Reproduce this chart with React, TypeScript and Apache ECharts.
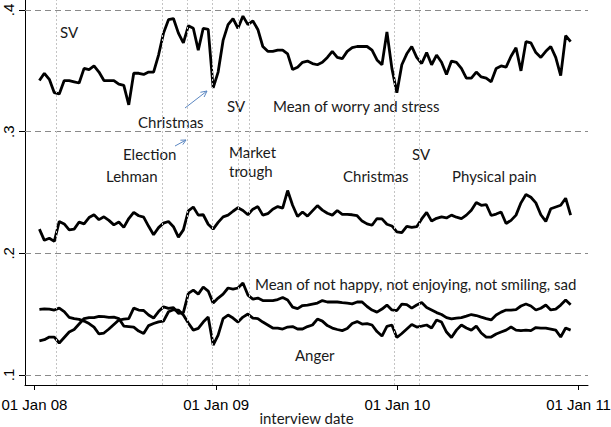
import React, { useEffect, useRef } from 'react';
import * as echarts from 'echarts';

const DAY = 86400000;
// interview-date sampling: every 10 days starting 11 Jan 2008
const sampleStart = Date.UTC(2008, 0, 11);
const sampleStepDays = 10;

const worryStress = [
  0.342, 0.348, 0.343, 0.332, 0.331, 0.342, 0.342, 0.341, 0.340, 0.352,
  0.351, 0.354, 0.349, 0.342, 0.342, 0.342, 0.339, 0.338, 0.322, 0.348,
  0.348, 0.347, 0.349, 0.349, 0.363, 0.381, 0.392, 0.393, 0.381, 0.373,
  0.387, 0.385, 0.367, 0.385, 0.384, 0.336, 0.349, 0.375, 0.388, 0.393,
  0.385, 0.395, 0.388, 0.391, 0.384, 0.370, 0.366, 0.366, 0.367, 0.367,
  0.364, 0.351, 0.353, 0.357, 0.358, 0.356, 0.355, 0.357, 0.361, 0.366,
  0.361, 0.360, 0.366, 0.369, 0.370, 0.370, 0.370, 0.367, 0.359, 0.355,
  0.382, 0.352, 0.332, 0.355, 0.364, 0.370, 0.361, 0.356, 0.365, 0.355,
  0.363, 0.357, 0.347, 0.358, 0.357, 0.352, 0.344, 0.344, 0.349, 0.345,
  0.344, 0.341, 0.352, 0.354, 0.353, 0.362, 0.369, 0.350, 0.374, 0.373,
  0.365, 0.361, 0.366, 0.370, 0.361, 0.346, 0.379, 0.374,
];

const physicalPain = [
  0.2199, 0.2107, 0.2124, 0.2098, 0.2262, 0.2242, 0.2193, 0.2199, 0.2257, 0.2242,
  0.2294, 0.2317, 0.2277, 0.2300, 0.2271, 0.2234, 0.2257, 0.2213, 0.2286, 0.2337,
  0.2309, 0.2297, 0.2222, 0.2153, 0.2211, 0.2248, 0.2262, 0.2219, 0.2133, 0.2193,
  0.2349, 0.2381, 0.2314, 0.2317, 0.2239, 0.2199, 0.2254, 0.2300, 0.2314, 0.2346,
  0.2375, 0.2352, 0.2317, 0.2363, 0.2384, 0.2314, 0.2326, 0.2363, 0.2384, 0.2372,
  0.2516, 0.2395, 0.2303, 0.2340, 0.2306, 0.2349, 0.2392, 0.2355, 0.2329, 0.2314,
  0.2352, 0.2320, 0.2320, 0.2317, 0.2309, 0.2265, 0.2242, 0.2231, 0.2286, 0.2283,
  0.2239, 0.2225, 0.2176, 0.2170, 0.2222, 0.2213, 0.2219, 0.2283, 0.2337, 0.2265,
  0.2288, 0.2300, 0.2291, 0.2314, 0.2297, 0.2286, 0.2314, 0.2355, 0.2418, 0.2395,
  0.2401, 0.2311, 0.2323, 0.2340, 0.2245, 0.2271, 0.2314, 0.2415, 0.2484, 0.2461,
  0.2415, 0.2317, 0.2262, 0.2366, 0.2381, 0.2395, 0.2453, 0.2314,
];

const notHappy = [
  0.1540, 0.1544, 0.1542, 0.1534, 0.1550, 0.1521, 0.1474, 0.1463, 0.1457, 0.1443,
  0.1423, 0.1394, 0.1337, 0.1345, 0.1378, 0.1415, 0.1452, 0.1460, 0.1464, 0.1550,
  0.1534, 0.1530, 0.1493, 0.1468, 0.1521, 0.1560, 0.1548, 0.1554, 0.1507, 0.1513,
  0.1671, 0.1698, 0.1665, 0.1723, 0.1690, 0.1591, 0.1632, 0.1665, 0.1715, 0.1706,
  0.1715, 0.1756, 0.1657, 0.1624, 0.1632, 0.1612, 0.1612, 0.1612, 0.1620, 0.1637,
  0.1616, 0.1558, 0.1546, 0.1571, 0.1575, 0.1583, 0.1591, 0.1612, 0.1600, 0.1600,
  0.1600, 0.1595, 0.1591, 0.1585, 0.1600, 0.1600, 0.1563, 0.1534, 0.1517, 0.1542,
  0.1575, 0.1535, 0.1530, 0.1583, 0.1579, 0.1550, 0.1575, 0.1595, 0.1554, 0.1534,
  0.1513, 0.1497, 0.1472, 0.1461, 0.1468, 0.1472, 0.1484, 0.1497, 0.1489, 0.1476,
  0.1464, 0.1453, 0.1493, 0.1517, 0.1534, 0.1534, 0.1538, 0.1567, 0.1583, 0.1567,
  0.1534, 0.1549, 0.1575, 0.1535, 0.1542, 0.1575, 0.1616, 0.1577,
];

const anger = [
  0.1281, 0.1290, 0.1312, 0.1312, 0.1263, 0.1308, 0.1353, 0.1374, 0.1419, 0.1464,
  0.1472, 0.1472, 0.1482, 0.1480, 0.1474, 0.1476, 0.1464, 0.1402, 0.1398, 0.1394,
  0.1361, 0.1341, 0.1406, 0.1423, 0.1437, 0.1443, 0.1520, 0.1536, 0.1534, 0.1493,
  0.1427, 0.1369, 0.1383, 0.1435, 0.1476, 0.1246, 0.1328, 0.1464, 0.1493, 0.1468,
  0.1435, 0.1476, 0.1501, 0.1468, 0.1464, 0.1435, 0.1411, 0.1386, 0.1386, 0.1378,
  0.1394, 0.1398, 0.1378, 0.1378, 0.1398, 0.1411, 0.1460, 0.1443, 0.1406, 0.1386,
  0.1374, 0.1365, 0.1382, 0.1423, 0.1439, 0.1419, 0.1423, 0.1411, 0.1357, 0.1320,
  0.1400, 0.1411, 0.1308, 0.1341, 0.1378, 0.1415, 0.1394, 0.1402, 0.1411, 0.1386,
  0.1452, 0.1435, 0.1353, 0.1308, 0.1369, 0.1411, 0.1386, 0.1369, 0.1402, 0.1345,
  0.1312, 0.1312, 0.1337, 0.1353, 0.1369, 0.1394, 0.1369, 0.1365, 0.1369, 0.1365,
  0.1390, 0.1386, 0.1386, 0.1378, 0.1369, 0.1312, 0.1386, 0.1369,
];

const yTicks = [0.1, 0.2, 0.3, 0.4];
const xTickDates = ['2008-01-01', '2009-01-01', '2010-01-01', '2011-01-01'];
// events: St Valentine's (SV), Lehman, Election, Christmas, SV, Market trough, Christmas, SV
const eventDates = [
  '2008-02-14', '2008-09-15', '2008-11-04', '2008-12-25',
  '2009-02-14', '2009-03-09', '2009-12-25', '2010-02-14',
];
const xMin = '2007-12-13';
const xMax = '2011-01-20';
const MONTHS = ['Jan', 'Feb', 'Mar', 'Apr', 'May', 'Jun', 'Jul', 'Aug', 'Sep', 'Oct', 'Nov', 'Dec'];

const toTs = (s: string) => {
  const [y, m, d] = s.split('-').map(Number);
  return Date.UTC(y, m - 1, d);
};

const seriesData = (vals: number[]) =>
  vals.map((v, i) => [sampleStart + i * sampleStepDays * DAY, v]);

const ANNOT_FONT = 'Lato';
const TEXT_COLOR = '#1a1a1a';
const ARROW_COLOR = '#5b87c2';

export default function App() {
  const ref = useRef<HTMLDivElement>(null);
  useEffect(() => {
    if (!ref.current) return;
    const chart = echarts.init(ref.current, undefined, { renderer: 'svg' });
    const txt = (text: string, x: number, y: number) => ({
      type: 'text',
      x,
      y,
      silent: true,
      style: {
        text,
        fill: TEXT_COLOR,
        fontFamily: ANNOT_FONT,
        fontSize: 15,
        align: 'left',
        verticalAlign: 'middle',
      },
    });
    const lineStyle = { color: '#000', width: 2.8 };
    const xTickValues = xTickDates.map(toTs);
    const option: any = {
      animation: false,
      grid: { left: 25, right: 23, top: 0, bottom: 42, containLabel: false, outerBoundsMode: 'none' },
      xAxis: {
        type: 'value',
        min: toTs(xMin),
        max: toTs(xMax),
        axisLine: { show: true, onZero: false, lineStyle: { color: '#000', width: 1 } },
        axisTick: {
          show: true,
          length: 5,
          customValues: xTickValues,
          lineStyle: { color: '#000', width: 1 },
        },
        axisLabel: {
          customValues: xTickValues,
          fontFamily: 'Liberation Sans',
          fontSize: 15,
          color: '#000',
          margin: 12,
          formatter: (v: number) => {
            const d = new Date(v);
            const dd = String(d.getUTCDate()).padStart(2, '0');
            const yy = String(d.getUTCFullYear() % 100).padStart(2, '0');
            return `${dd} ${MONTHS[d.getUTCMonth()]} ${yy}`;
          },
        },
        splitLine: { show: false },
        name: 'interview date',
        nameLocation: 'middle',
        nameGap: 25,
        nameMoveOverlap: false,
        nameTextStyle: { fontFamily: ANNOT_FONT, fontSize: 15, color: TEXT_COLOR },
      },
      yAxis: {
        type: 'value',
        min: 0.09178,
        max: 0.40822,
        axisLine: { show: true, onZero: false, lineStyle: { color: '#000', width: 1 } },
        axisTick: { show: true, length: 6, customValues: yTicks, lineStyle: { color: '#000' } },
        axisLabel: {
          customValues: yTicks,
          rotate: 90,
          margin: 9,
          fontFamily: 'Liberation Sans',
          fontSize: 15,
          color: '#000',
          formatter: (v: number) => '.' + Math.round(v * 10),
        },
        splitLine: { show: false },
      },
      series: [
        {
          type: 'line',
          data: [],
          z: 1,
          silent: true,
          markLine: {
            silent: true,
            symbol: ['none', 'none'],
            label: { show: false },
            animation: false,
            data: [
              ...yTicks.map((v) => ({
                yAxis: v,
                lineStyle: { type: [6, 4], color: '#8a8a8a', width: 1.2 },
              })),
              ...eventDates.map((d) => ({
                xAxis: toTs(d),
                lineStyle: { type: [2, 2], color: '#c4c4c4', width: 1 },
              })),
            ],
          },
        },
        { name: 'Mean of worry and stress', type: 'line', data: seriesData(worryStress), showSymbol: false, lineStyle, z: 3 },
        { name: 'Physical pain', type: 'line', data: seriesData(physicalPain), showSymbol: false, lineStyle, z: 3 },
        { name: 'Mean of not happy, not enjoying, not smiling, sad', type: 'line', data: seriesData(notHappy), showSymbol: false, lineStyle, z: 3 },
        { name: 'Anger', type: 'line', data: seriesData(anger), showSymbol: false, lineStyle, z: 3 },
      ],
      graphic: [
        txt('SV', 60, 32),
        txt('Christmas', 138, 122),
        txt('SV', 227, 106),
        txt('Mean of worry and stress', 273, 106),
        txt('Election', 123, 154),
        txt('Lehman', 106, 176),
        txt('Market', 229, 152),
        txt('trough', 229, 171),
        txt('Christmas', 343, 176),
        txt('SV', 412, 154),
        txt('Physical pain', 452, 176),
        txt('Mean of not happy, not enjoying, not smiling, sad', 255, 284),
        txt('Anger', 295, 355),
        { type: 'line', silent: true, shape: { x1: 185, y1: 108, x2: 207, y2: 91 }, style: { stroke: ARROW_COLOR, lineWidth: 1 } },
        { type: 'polyline', silent: true, shape: { points: [[204.1, 97.0], [207, 91], [200.4, 92.3]] }, style: { stroke: ARROW_COLOR, lineWidth: 1, fill: 'none' } },
        { type: 'line', silent: true, shape: { x1: 175, y1: 146, x2: 186, y2: 140 }, style: { stroke: ARROW_COLOR, lineWidth: 1 } },
        { type: 'polyline', silent: true, shape: { points: [[182.8, 144.6], [186, 140], [180.4, 140.2]] }, style: { stroke: ARROW_COLOR, lineWidth: 1, fill: 'none' } },
      ],
    };
    chart.setOption(option);
    return () => chart.dispose();
  }, []);
  return <div ref={ref} style={{ width: 611, height: 427, position: 'absolute', left: 0, top: 0 }} />;
}
